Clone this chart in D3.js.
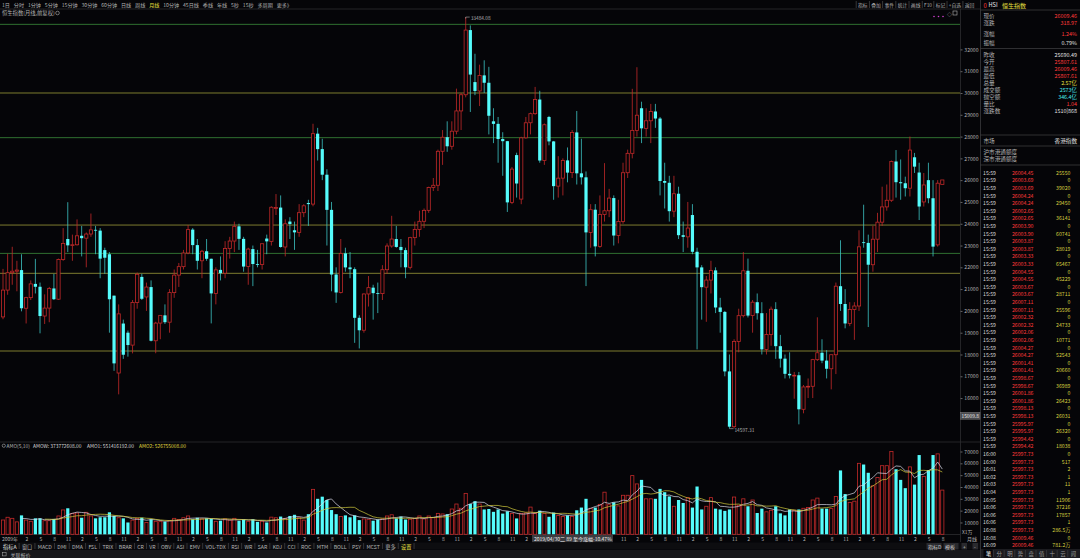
<!DOCTYPE html>
<html>
<head>
<meta charset="utf-8">
<script src="https://cdn.jsdelivr.net/npm/d3@7"></script>
<style>
  body { margin: 0; background: #050508; }
  svg { display: block; }
  text { font-family: "Noto Sans CJK SC", "Noto Sans", sans-serif; }
</style>
</head>
<body>
<svg id="chart" width="1080" height="558"></svg>
<script>
// 恒生指数 月线, 2009年9月起
const open = [19724,20955,21753,21822,
  21873,20122,20608,21239,21108,19765,20129,21030,20537,22358,23300,23008,
  23035,23447,23338,23528,23720,23684,22790,22600,20700,17150,19420,19000,
  18430,20390,21560,20640,21094,18630,19441,19796,19482,20840,21642,22030,
  22657,23730,23020,22300,22737,22392,20803,21883,21731,22860,23206,23881,
  23306,22035,22837,22151,22134,23320,23191,24720,24742,22933,24100,23700,
  23605,24507,24950,24901,28133,27424,26250,24636,21670,20846,22640,21996,
  21914,19683,19112,20777,21067,20815,20794,21891,22977,23297,22935,22790,
  22001,23361,23741,24112,24615,25661,25765,27324,27970,27554,28246,29177,
  29919,32887,30500,30093,30808,30469,28700,28583,27889,27789,24980,27150,
  25130,27942,28633,29051,29699,26901,28900,27778,25725,26092,26907,26346,
  28190,26313,26130,23603,24644,22961,24427,24595,25177,23459,24107,26341,
  27231,28284,29300,28378,28725,29152,28828,25961,25879,24576,25377,23475,
  23398,24400,22713,21997,21089,21415,21860,20157,19954,17223,14687,18597,
  19781,21842,19786,20400,19895,18234,18916,20079,18382,17809,17112,17043,
  17047,15485,16511,16541,17763,18080,17719,17345,17989,21134,20317,19424,
  20060,20225,23150,23120,22119,23290,24072,24773,25077,26856,25906,25858,
  25630,27050,26350,25000,26000,25170,23030,25807.61];

const high = [21929,22620,22943,22300,
  22600,20650,21400,22388,21300,20760,21100,21700,22400,23800,24988,23500,
  24200,23900,23600,24468,23900,23800,22900,22700,20700,20300,19600,19100,
  20500,21760,21700,21300,21400,19500,19800,20300,21000,21900,22200,22800,
  23944,23800,23300,22800,23300,22400,22000,22500,23200,23400,24100,24000,
  23400,22900,23000,22800,23100,23500,24800,25362,25300,24200,24300,24100,
  24900,24900,25100,28588,28400,27900,26500,25000,22000,23300,22900,22700,
  22000,19800,20800,21600,21200,21300,22100,23100,24364,23900,23300,22900,
  23400,24100,24600,24700,25700,26100,27400,28300,28700,28700,30200,30000,
  33484.08,33100,31800,31300,31500,31200,29300,28900,28200,27800,26600,27260,
  27990,28900,29100,30280,30100,28600,28950,27800,27100,27000,27500,28300,
  29175,27900,26400,24900,24900,25300,26782,25600,25300,25100,26800,27400,
  30191,31183,29600,29300,29500,29500,28900,26800,26200,26200,25700,24100,
  25000,24900,22900,22100,21600,22300,22000,20600,20000,18000,18700,20100,
  22700,22400,20500,20800,20400,19900,20200,20400,18900,18000,18100,17200,
  17200,16600,16900,17800,19706,18700,18200,18000,21300,23241,21000,20400,
  20400,23700,24874,23500,23900,24500,25700,25800,26900,27381,26950,26160,
  28000,27250,26800,26330,26800,26000,26000,26009.46];

const low = [19618,20740,21200,20900,
  19980,19423,20500,20800,18971,19400,19480,20500,20500,22300,22700,22300,
  23000,22500,22000,23400,22600,21500,21700,19000,17250,16170,17800,17900,
  18050,20100,20500,20000,18600,18056,18700,19400,19000,20600,21100,21900,
  22600,22600,21900,21500,22300,19426,20300,21400,21500,22400,22700,22800,
  21800,21200,21137,22000,21900,22600,23000,24400,22900,22500,23300,22800,
  23400,24300,23900,24800,26900,26000,23000,20900,20368,20800,21800,21500,
  18534,18278,19000,20200,19600,19900,20500,21700,22900,22900,22000,21500,
  21900,23000,23400,23800,24500,25500,25500,26700,27300,27400,28100,28300,
  29800,29129,29900,29400,30000,28100,27700,26800,26200,24540,24900,25200,
  24896,27900,28100,29000,26800,26700,27600,25100,25200,25300,25900,26100,
  25800,25800,21139,22900,22500,22900,24100,24300,23000,23100,24000,26100,
  27000,28000,27700,28000,27700,28400,25300,24700,24100,24300,23300,22700,
  22900,22600,18235,19600,19500,20800,19900,19000,17000,14597.31,14600,18100,
  19700,19700,19000,19600,18000,18000,18400,17800,17400,16900,16900,15970,
  14794,15300,16000,16000,17700,17600,16900,16400,17100,20000,19200,19300,
  18671,20000,22900,19260,21800,22700,23900,24600,25000,25200,25100,25250,
  25250,26330,24170,24790,24940,22500,22950,25807.61];

const close = [20955,21753,21822,21873,
  20122,20608,21239,21108,19765,20129,21030,20537,22358,23096,23008,23035,
  23447,23338,23528,23720,23684,22398,22440,20535,17592,19864,17989,18434,
  20390,21680,20556,21094,18630,19441,19796,19482,20840,21642,22030,22657,
  23730,23020,22300,22737,22392,20803,21883,21731,22860,23206,23881,23306,
  22035,22837,22151,22134,23082,23191,24757,24742,22933,23998,23987,23605,
  24507,24823,24901,28133,27424,26250,24636,21670,20846,22640,21996,21914,
  19683,19112,20777,21067,20815,20794,21891,22977,23297,22935,22790,22001,
  23361,23741,24112,24615,25661,25765,27324,27970,27554,28246,29177,29919,
  32887,30845,30093,30808,30469,28955,28583,27889,27789,24980,26507,25846,
  27942,28633,29051,29699,26901,28543,27778,25725,26092,26907,26346,28190,
  26313,26130,23603,24644,22961,24427,24595,25177,23459,24107,26341,27231,
  28284,28980,28378,28725,29152,28828,25961,25879,24576,25377,23475,23398,
  23802,22713,21997,21089,21415,21860,20157,19954,17223,14687,18597,19781,
  21842,19786,20400,19895,18234,18916,20079,18382,17809,17112,17043,17047,
  15485,16511,16541,17763,18080,17719,17345,17989,21134,20317,19424,20060,
  20225,22941,23120,22119,23290,24072,24773,25077,26856,25906,25858,25630,
  27380,26620,24790,25780,25170,22950,25860,26009.46];

// 成交额, 单位 万
const amount = [12100,14400,13500,10500,
  16000,12000,11000,13500,13500,11500,11500,13000,15500,20600,22000,17700,
  18000,14000,18600,15500,13500,14400,14400,18600,15500,14000,13500,10000,
  12000,13500,14000,10000,12700,11000,10700,10700,11500,13500,12500,14000,
  15500,12700,14000,13000,13500,13000,11000,11500,13000,12000,13500,11500,
  12500,11000,12700,10500,11000,10000,14500,14000,15000,13500,15500,16500,
  14000,12000,17000,38000,30000,31800,29000,20500,17000,15000,16000,14400,
  16000,12000,13000,12700,11500,12500,13000,15500,16500,13500,15000,12500,
  12700,13500,15500,13000,15500,14000,17700,17200,17000,21400,25600,22000,
  34600,25600,28000,25600,21000,21400,19000,21000,17500,19500,17500,13400,
  17500,18000,23000,17500,20000,17500,14800,18400,16000,15000,16000,15000,
  20300,22600,30000,22000,22600,25300,35600,25000,27000,24000,33000,33000,
  49600,42600,46000,30000,30000,30000,38400,35600,32000,23700,29000,26500,
  31000,22600,40400,21000,23700,31000,21700,21000,19800,21000,31500,24500,
  30000,23700,29000,18000,21700,19000,20300,23700,17700,16000,21000,20300,
  21000,22000,22600,29000,30600,21700,21700,21700,32000,54000,34000,27000,
  28000,60000,59000,52000,41000,48000,58000,58000,70000,55000,46000,39000,
  57000,42000,67000,49000,54300,67000,68000,37377];

const levelPrices = [33150, 30000, 27950, 23940, 22640, 21725, 18160];
const levelKinds  = ["g", "y", "g", "y", "g", "y", "y"];
const priceTicks = [16000,17000,18000,19000,20000,21000,22000,23000,24000,25000,26000,27000,28000,29000,30000,31000,32000];
const volTicks = [10000,20000,30000,40000,50000,60000,70000];
const firstYearLabel = "2009年";
const monthLabels = ["2","5","8","11"];

const topTabs = ["1日","分时","1分钟","5分钟","15分钟","30分钟","60分钟","日线","周线","月线","10分钟","45日线","季线","年线","5秒","15秒","多周期","更多》"];
const topTools = ["指标","叠加","事件","统计","画线","F10","标记","+自选","返回"];
const indTabs = ["指标A","窗口","MACD","DMI","DMA","FSL","TRIX","BRAR","CR","VR","OBV","ASI","EMV","VOL-TDX","RSI","WR","SAR","KDJ","CCI","ROC","MTM","BOLL","PSY","MCST","更多","设置"];
const amoHeader = ["AMO(5,10)", "AMOW: 373772608.00", "AMO1: 551416192.00", "AMO2: 526755008.00"];

const quoteLabels = ["现价","涨跌","涨幅","振幅","昨收","今开","最高","最低","总量","成交额","抛空额","量比","涨跌数"];
const quoteValues = ["26009.46","318.97","1.24%","0.79%","25690.49","25807.61","26009.46","25807.61","2.57亿","2573亿","346.4亿","1.04","1510|868"];
const quoteKinds  = ["up","up","up","w","w","up","up","up","vol","amt","amt","up","w"];

const tickTimes = ["15:59","15:59","15:59","15:59","15:59","15:59","15:59","15:59","15:59","15:59",
  "15:59","15:59","15:59","15:59","15:59","15:59","15:59","15:59","15:59","15:59",
  "15:59","15:59","15:59","15:59","15:59","15:59","15:59","15:59","15:59","15:59",
  "15:59","15:59","15:59","15:59","15:59","15:59","15:59","16:00","16:00","16:01",
  "16:02","16:03","16:04","16:05","16:06","16:06","16:06","16:08","16:08","16:09"];
const tickPrices = ["26004.45","26003.69","26003.69","26004.24","26004.24","26002.65","26002.65","26003.90","26003.90","26003.87",
  "26003.87","26003.33","26003.33","26004.55","26004.55","26003.67","26003.67","26007.11","26007.11","26002.32",
  "26002.32","26002.06","26002.06","26004.27","26004.27","26001.41","26001.41","25998.67","25998.67","26001.86",
  "26001.86","25998.13","25998.13","25995.97","25995.97","25994.42","25994.42","25997.73","25997.73","25997.73",
  "25997.73","25997.73","25997.73","25997.73","25997.73","25997.73","25997.73","25997.73","26009.46","26009.46"];
const tickVols = ["25550","0","39020","0","29450","0","36141","0","60741","0",
  "28019","0","65467","0","45229","0","28711","0","25596","0",
  "24733","0","10771","0","52543","0","20660","0","36989","0",
  "26423","0","26031","0","26320","0","18038","0","517","2",
  "1","11","1","11906","37216","17857","1","286.5万","0","781.2万"];
const panelTabs = ["笔","分","明","势","盘","值","十","云","闻"];

// ---- 颜色
const BG = "#050508", RED = "#c42a2a", CYAN = "#55fcfc", GREY = "#b4b4b4";
const LINE = "#2c2c30";

const svg = d3.select("#chart");
svg.append("rect").attr("width", 1080).attr("height", 558).attr("fill", BG);

function txt(x, y, s, size, fill, anchor) {
  return svg.append("text").attr("x", x).attr("y", y).text(s)
    .attr("font-size", size).attr("fill", fill)
    .attr("text-anchor", anchor || "start")
    .attr("dominant-baseline", "central");
}
function hline(y, x1, x2, c) {
  svg.append("line").attr("x1", x1).attr("x2", x2).attr("y1", y).attr("y2", y)
    .attr("stroke", c || LINE).attr("stroke-width", 0.8);
}
function vline(x, y1, y2, c) {
  svg.append("line").attr("x1", x).attr("x2", x).attr("y1", y1).attr("y2", y2)
    .attr("stroke", c || LINE).attr("stroke-width", 0.8);
}

// ---- 比例尺
const n = close.length;
const x = d3.scaleLinear().domain([0, n - 1]).range([3, 942.3]);
const y = d3.scaleLinear().domain([14200, 33900]).range([437.3, 8.0]);
const yv = d3.scaleLinear().domain([0, 70000]).range([534.3, 451.5]);
const bw = 3.2;

// ---- 框线
hline(9, 0, 980);
hline(442, 0, 980);
hline(534.5, 0, 960);
vline(960.5, 9, 542);
vline(980.5, 0, 558, "#3a3a3e");

// ---- 顶部工具条
let cx = 2;
topTabs.forEach(s => {
  const t = txt(cx, 4.3, s, 5.1, s === "月线" ? "#e8e040" : GREY);
  cx += t.node().getComputedTextLength() + 3.9;
});
cx = 858;
topTools.forEach((s, k) => {
  const t = txt(cx, 4.3, s, 4.8, GREY);
  const w = t.node().getComputedTextLength();
  vline(cx - 1.8, 1, 8, "#444");
  cx += w + 3.6;
});
txt(2, 13, "恒生指数(月线,前复权)", 5.3, GREY);
svg.append("circle").attr("cx", 57.5).attr("cy", 13).attr("r", 1.8).attr("fill", "none").attr("stroke", GREY).attr("stroke-width", 0.6);
[934, 938.5, 943].forEach(d => svg.append("circle").attr("cx", d).attr("cy", 16.5).attr("r", 0.8).attr("fill", "#d040d0"));
txt(947, 13, "◇", 5, GREY);
svg.append("rect").attr("x", 953).attr("y", 11).attr("width", 4).attr("height", 4).attr("fill", "none").attr("stroke", GREY).attr("stroke-width", 0.6);

// ---- 水平线
levelPrices.forEach((p, k) => {
  hline(y(p), 0, 960, levelKinds[k] === "g" ? "#3b8c3b" : "#9c9a3a");
});

// ---- K线
const idx = d3.range(n);
const gK = svg.append("g");
idx.forEach(i => {
  const up = close[i] >= open[i];
  const top = y(Math.max(open[i], close[i]));
  const bot = y(Math.min(open[i], close[i]));
  const h = Math.max(0.8, bot - top);
  const cxi = x(i);
  if (up) {
    gK.append("line").attr("x1", cxi).attr("x2", cxi).attr("y1", y(high[i])).attr("y2", top)
      .attr("stroke", RED).attr("stroke-width", 0.8);
    gK.append("line").attr("x1", cxi).attr("x2", cxi).attr("y1", top + h).attr("y2", y(low[i]))
      .attr("stroke", RED).attr("stroke-width", 0.8);
    gK.append("rect").attr("x", cxi - bw / 2).attr("y", top).attr("width", bw).attr("height", h)
      .attr("fill", BG).attr("stroke", RED).attr("stroke-width", 0.8);
  } else {
    gK.append("line").attr("x1", cxi).attr("x2", cxi).attr("y1", y(high[i])).attr("y2", y(low[i]))
      .attr("stroke", "#3cc4c4").attr("stroke-width", 0.8);
    gK.append("rect").attr("x", cxi - bw / 2).attr("y", top).attr("width", bw).attr("height", h)
      .attr("fill", CYAN);
  }
});

// 最高 / 最低 标注
const iMax = d3.maxIndex(high), iMin = d3.minIndex(low);
svg.append("path").attr("d", `M${x(iMax)},${y(high[iMax]) + 1.5}V${y(high[iMax])}H${x(iMax) + 4}`)
  .attr("fill", "none").attr("stroke", GREY).attr("stroke-width", 0.6);
txt(x(iMax) + 5, y(high[iMax]) + 0.6, d3.format(".2f")(high[iMax]), 4.8, GREY);
svg.append("path").attr("d", `M${x(iMin)},${y(low[iMin])}H${x(iMin) + 4}`)
  .attr("fill", "none").attr("stroke", GREY).attr("stroke-width", 0.6);
txt(x(iMin) + 5, y(low[iMin]) + 0.6, d3.format(".2f")(low[iMin]), 4.8, GREY);

// ---- 价格坐标
const ay = svg.append("g").attr("transform", "translate(960.5,0)")
  .call(d3.axisRight(y).tickValues(priceTicks).tickSize(2).tickFormat(d3.format("d")));
ay.select(".domain").remove();
ay.selectAll(".tick line").attr("stroke", "#666");
ay.selectAll(".tick text").attr("x", 18).attr("text-anchor", "end").attr("fill", GREY)
  .attr("font-size", 5.1).attr("font-family", "Noto Sans CJK SC");
svg.append("rect").attr("x", 960.5).attr("y", 412.2).attr("width", 19.5).attr("height", 7)
  .attr("fill", "#4a4a4e").attr("stroke", "#888").attr("stroke-width", 0.4);
txt(970.2, 415.8, "15009.8", 4.8, "#f0f0f0", "middle");

// ---- 成交额
svg.append("circle").attr("cx", 3.8).attr("cy", 445.7).attr("r", 1.6).attr("fill", "none").attr("stroke", GREY).attr("stroke-width", 0.6);
[[6.5, GREY], [33, "#d8d8d8"], [87, "#d8d8d8"], [139, "#e0dc40"]].forEach((d, k) => {
  txt(d[0], 445.7, amoHeader[k], 4.9, d[1]);
});
const gV = svg.append("g");
idx.forEach(i => {
  const up = close[i] >= open[i];
  const top = yv(amount[i]);
  const r = gV.append("rect").attr("x", x(i) - bw / 2).attr("y", top)
    .attr("width", bw).attr("height", yv(0) - top);
  if (up) r.attr("fill", "none").attr("stroke", RED).attr("stroke-width", 0.8);
  else r.attr("fill", CYAN);
});
function ma(k) {
  return idx.filter(i => i >= k - 1).map(i => [i, d3.mean(amount.slice(i - k + 1, i + 1))]);
}
const lineV = d3.line().x(d => x(d[0])).y(d => yv(d[1]));
svg.append("path").datum(ma(5)).attr("d", lineV).attr("fill", "none").attr("stroke", "#dcdcec").attr("stroke-width", 0.7);
svg.append("path").datum(ma(10)).attr("d", lineV).attr("fill", "none").attr("stroke", "#d2cc3c").attr("stroke-width", 0.7);

const av = svg.append("g").attr("transform", "translate(960.5,0)")
  .call(d3.axisRight(yv).tickValues(volTicks).tickSize(2).tickFormat(d3.format("d")));
av.select(".domain").remove();
av.selectAll(".tick line").attr("stroke", "#666");
av.selectAll(".tick text").attr("x", 18).attr("text-anchor", "end").attr("fill", GREY)
  .attr("font-size", 5.1).attr("font-family", "Noto Sans CJK SC");
txt(962, 531.7, "X1万", 4.9, GREY);

// ---- 时间轴 (提示框下的刻度被遮住)
const tipX0 = 532, tipX1 = 613;
txt(2, 538.5, firstYearLabel, 5, GREY);
d3.range(5, n, 3).forEach((i, k) => {
  const lx = x(i) + 0.8;
  if (lx > tipX0 - 3 && lx < tipX1 + 3) return;
  txt(lx, 538.5, monthLabels[k % 4], 5, GREY, "middle");
});
txt(967, 538.5, "月线", 5, GREY);
svg.append("rect").attr("x", tipX0).attr("y", 534.8).attr("width", tipX1 - tipX0).attr("height", 7.4).attr("fill", "#3c3c40");
txt(tipX0 + 2, 538.5, "2019/04/30二 89 至今涨幅-10.47%", 5, "#f0f0f0");

// ---- 底部指标条
svg.append("rect").attr("x", 0).attr("y", 542.5).attr("width", 980).attr("height", 7).attr("fill", "#0d0d10");
svg.append("rect").attr("x", 0).attr("y", 550).attr("width", 980).attr("height", 8).attr("fill", "#18181b");
cx = 3;
indTabs.forEach((s, k) => {
  const t = txt(cx, 546, s, 5.2, s === "设置" ? "#e8e040" : (k === 0 ? "#e0e0e0" : GREY));
  const w = t.node().getComputedTextLength();
  vline(cx + w + 2.6, 543, 549, "#3c3c40");
  cx += w + 5.4;
});
[["指标D", 928], ["模板", 945], ["+", 963], ["-", 974]].forEach(d => {
  svg.append("rect").attr("x", d[1] - 1.5).attr("y", 543).attr("width", d[0].length > 1 ? 15 : 5.5).attr("height", 6.4).attr("fill", "#2a2a2e");
  txt(d[1], 546.2, d[0], 5, "#d0d0d0");
});
svg.append("rect").attr("x", 2.5).attr("y", 552.3).attr("width", 3.6).attr("height", 3.6).attr("fill", "none").attr("stroke", GREY).attr("stroke-width", 0.5);
txt(10.5, 554.2, "关联报价", 5, GREY);

// ---- 右侧行情面板
txt(983.5, 5, "0", 5.8, "#ff3a3a");
txt(988.5, 5, "HSI", 5.6, "#e8e8e8");
txt(1002, 5, "恒生指数", 6, "#e8e040");
hline(10, 980, 1080, "#3a3a3e");
const qColor = { up: "#ff3a3a", w: "#e0e0e0", vol: "#e8e040", amt: "#48e8e8" };
const qY = [15.5, 23, 33.5, 43.3, 55, 62.3, 69.3, 76.3, 83.3, 90.3, 97.3, 104.3, 111.3];
quoteLabels.forEach((s, k) => {
  txt(983.5, qY[k], s, 5.6, GREY);
  txt(1077, qY[k], quoteValues[k], 5.4, qColor[quoteKinds[k]], "end");
});
hline(48.5, 980, 1080, "#3a3a3e");
hline(135, 980, 1080, "#3a3a3e");
txt(983.5, 140.7, "市场", 5.6, GREY);
txt(1077, 140.7, "香港指数", 5.6, "#e0e0e0", "end");
hline(146, 980, 1080, "#3a3a3e");
txt(983.5, 151.8, "沪市港通额度", 5.6, GREY);
txt(983.5, 159.2, "深市港通额度", 5.6, GREY);
hline(165, 980, 1080, "#3a3a3e");
tickTimes.forEach((s, k) => {
  const yy = 172.3 + k * 7.6;
  txt(983, yy, s, 5.2, "#d8d8d8");
  txt(1033.5, yy, tickPrices[k], 5.2, "#ff3a3a", "end");
  txt(1070.5, yy, tickVols[k], 5.2, "#d8d040", "end");
});
svg.append("rect").attr("x", 981).attr("y", 549).attr("width", 99).attr("height", 9).attr("fill", "#1c1c20");
panelTabs.forEach((s, k) => {
  const px = 986 + k * 10.6;
  if (k === 0) svg.append("rect").attr("x", px - 2.5).attr("y", 549.5).attr("width", 9).attr("height", 8).attr("fill", "#050508");
  txt(px, 553.5, s, 5.4, k === 0 ? "#f0f0f0" : "#9a9a9a");
  if (k > 0) vline(px - 3, 550, 557, "#3a3a3e");
});
</script>
</body>
</html>
